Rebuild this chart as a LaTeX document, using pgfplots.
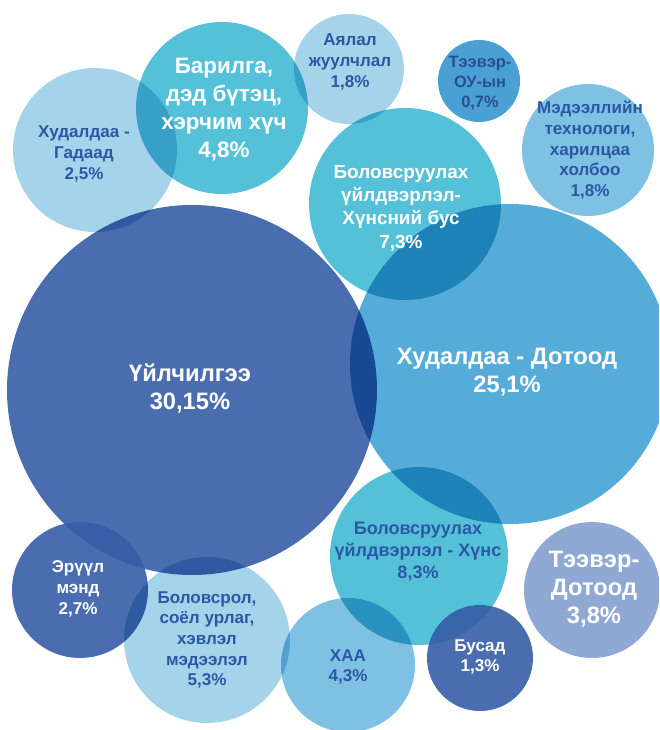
\documentclass[border=0pt]{standalone}
\usepackage{pgfplots}
\pgfplotsset{compat=1.18}
\usepackage{fontspec}
\setmainfont{Liberation Sans}

\definecolor{cServ}{RGB}{74,109,176}
\definecolor{cDarkB}{RGB}{54,93,167}
\definecolor{cDom}{RGB}{86,172,217}
\definecolor{cCyan}{RGB}{85,193,217}
\definecolor{cLight}{RGB}{165,212,234}
\definecolor{cMid}{RGB}{127,193,227}
\definecolor{cOU}{RGB}{74,160,213}
\definecolor{cTD}{RGB}{143,168,212}
\definecolor{cTxt}{RGB}{43,88,166}

% radius r is in pixels of the 659x730 picture, 1px = 0.75pt
\pgfplotsset{
  bubble/.style={scatter, only marks, mark=*,
    visualization depends on={\thisrow{r}\as\rad},
    scatter/use mapped color={draw=#1, draw opacity=0, fill=#1},
    scatter/@pre marker code/.append style={/tikz/mark size={0.75*\rad}}},
}
\tikzset{
  lbl/.style={align=center, font=\bfseries\fontsize{12.8}{15.5}\selectfont, text=cTxt},
  big/.style={align=center, font=\bfseries\fontsize{17.8}{21}\selectfont, text=white},
}

\begin{document}
\begin{tikzpicture}
\begin{axis}[
  x=0.75pt, y=0.75pt, y dir=reverse,
  xmin=0, xmax=659, ymin=0, ymax=730,
  hide axis, clip marker paths=true,
]
% Үйлчилгээ
\addplot[bubble=cServ] table {
x y r
192 390 185
};
% Эрүүл мэнд
\addplot[bubble=cDarkB, fill opacity=0.9] table {
x y r
80 590 68
};
% Худалдаа - Дотоод
\addplot[bubble=cDom, blend mode=multiply] table {
x y r
510 364 160
};
% Боловсруулах үйлдвэрлэл - Хүнсний бус
\addplot[bubble=cCyan, blend mode=multiply] table {
x y r
405 204 96
};
% Барилга
\addplot[bubble=cCyan, blend mode=multiply] table {
x y r
222 108 86
};
% Худалдаа - Гадаад
\addplot[bubble=cLight, blend mode=multiply] table {
x y r
95 150 82
};
% Аялал жуулчлал
\addplot[bubble=cLight, blend mode=multiply] table {
x y r
349 69 55
};
% Тээвэр - ОУ
\addplot[bubble=cOU, blend mode=multiply] table {
x y r
479 81 41
};
% Мэдээллийн технологи
\addplot[bubble=cMid, blend mode=multiply] table {
x y r
588 150 66
};
% Боловсруулах үйлдвэрлэл - Хүнс
\addplot[bubble=cCyan, blend mode=multiply] table {
x y r
419 556 89
};
% Тээвэр - Дотоод
\addplot[bubble=cTD, blend mode=multiply] table {
x y r
592 590 68
};
% Боловсрол
\addplot[bubble=cLight, blend mode=multiply] table {
x y r
207 640 83
};
% ХАА
\addplot[bubble=cMid, blend mode=multiply] table {
x y r
348 665 67
};
% Бусад
\addplot[bubble=cDarkB, fill opacity=0.9] table {
x y r
480 658 53
};

\node[big] at (axis cs:190,389) {Үйлчилгээ\\30,15\%};
\node[big] at (axis cs:507,372) {Худалдаа - Дотоод\\25,1\%};
\node[big, font=\bfseries\fontsize{16.8}{21}\selectfont] at (axis cs:224,110) {Барилга,\\дэд бүтэц,\\хэрчим хүч\\4,8\%};
\node[big] at (axis cs:594,589) {Тээвэр-\\Дотоод\\3,8\%};
\node[align=center, text=white, font=\bfseries\fontsize{14.2}{17.5}\selectfont] at (axis cs:401,208) {Боловсруулах\\үйлдвэрлэл-\\Хүнсний бус\\7,3\%};
\node[lbl, font=\bfseries\fontsize{13.5}{16.5}\selectfont] at (axis cs:418,552) {Боловсруулах\\үйлдвэрлэл - Хүнс\\8,3\%};
\node[lbl] at (axis cs:84,154) {Худалдаа -\\Гадаад\\2,5\%};
\node[lbl] at (axis cs:350,62) {Аялал\\жуулчлал\\1,8\%};
\node[lbl, font=\bfseries\fontsize{12.3}{15}\selectfont, text=cTxt!90!black] at (axis cs:480,83) {Тээвэр-\\ОУ-ын\\0,7\%};
\node[lbl] at (axis cs:590,150) {Мэдээллийн\\технологи,\\харилцаа\\холбоо\\1,8\%};
\node[lbl, text=white] at (axis cs:78,589) {Эрүүл\\мэнд\\2,7\%};
\node[lbl] at (axis cs:207,640) {Боловсрол,\\соёл урлаг,\\хэвлэл\\мэдээлэл\\5,3\%};
\node[lbl] at (axis cs:348,667) {ХАА\\4,3\%};
\node[lbl, text=white] at (axis cs:480,657) {Бусад\\1,3\%};
\end{axis}
\pgfresetboundingbox
\path[use as bounding box] (current axis.south west) rectangle (current axis.north east);
\end{tikzpicture}
\end{document}
